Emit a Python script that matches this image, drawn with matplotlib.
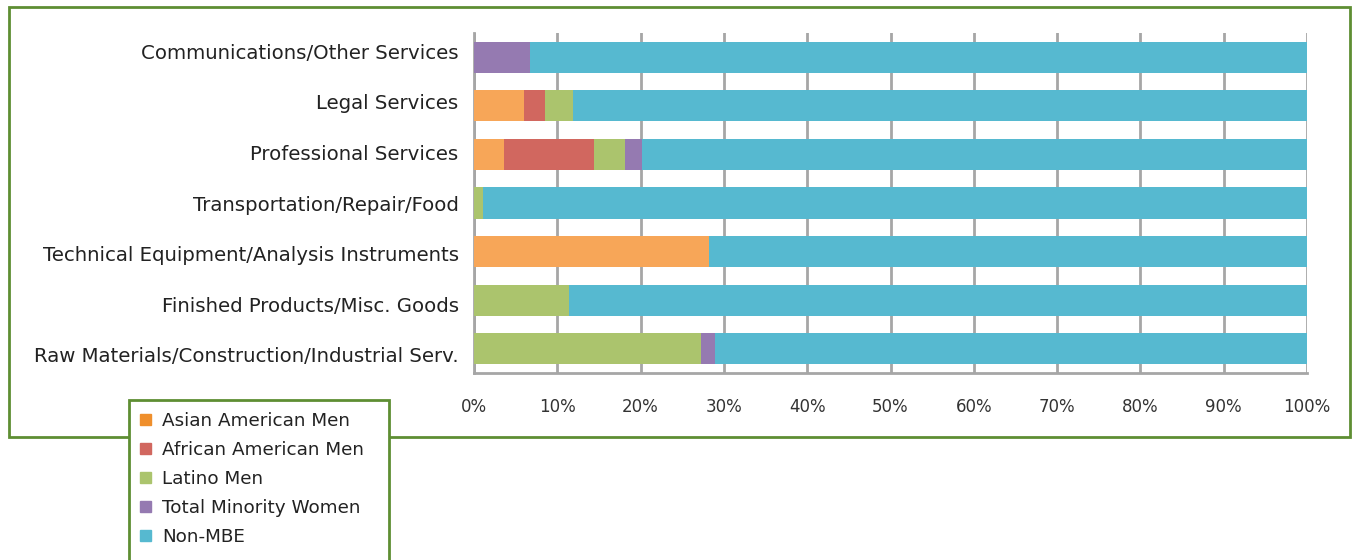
import numpy as np
import matplotlib.pyplot as plt
import matplotlib.patches as mpatches

plt.rcParams['font.family'] = ['DejaVu Sans']

categories = ['Communications/Other Services', 'Legal Services', 'Professional Services',
              'Transportation/Repair/Food', 'Technical Equipment/Analysis Instruments',
              'Finished Products/Misc. Goods', 'Raw Materials/Construction/Industrial Serv.']
asian_men = [0.0, 6.0, 3.6, 0.0, 28.2, 0.0, 0.0]
african_men = [0.0, 2.5, 10.8, 0.0, 0.0, 0.0, 0.0]
latino_men = [0.0, 3.4, 3.7, 1.1, 0.0, 11.4, 27.2]
minority_women = [6.7, 0.0, 2.1, 0.0, 0.0, 0.0, 1.7]
series_names = ['Asian American Men', 'African American Men', 'Latino Men',
                'Total Minority Women', 'Non-MBE']
xticks = [0, 10, 20, 30, 40, 50, 60, 70, 80, 90, 100]

colors = ['#F7A658', '#D1675F', '#ABC46D', '#957AB1', '#56B9D0']
legend_colors = ['#EF8F2C', '#D1675F', '#ABC46D', '#957AB1', '#56B9D0']
green = '#5E8E33'
grey = '#A6A6A6'

minority = np.array([asian_men, african_men, latino_men, minority_women])
non_mbe = 100 - minority.sum(axis=0)
data = list(minority) + [non_mbe]

fig = plt.figure(figsize=(13.53, 5.6), dpi=100)
ax = fig.add_axes([474/1353, 1-373/560, (1307-474)/1353, 340/560])

y = np.arange(len(categories))
left = np.zeros(len(categories))
for vals, c, name in zip(data, colors, series_names):
    ax.barh(y, vals, left=left, height=0.64, color=c, label=name, zorder=3)
    left += vals

ax.set_xlim(0, 100)
ax.set_ylim(len(categories) - 0.5, -0.5)
ax.set_xticks(xticks)
ax.set_xticklabels([f'{t}%' for t in xticks], fontsize=12, color='#333333')
# category labels are spread a little wider than the bars
ax.set_yticks(-0.12 + y * 1.04)
ax.set_yticklabels(categories, fontsize=14.2, color='#222222')
ax.tick_params(axis='both', length=0)
ax.tick_params(axis='x', pad=18)
ax.tick_params(axis='y', pad=11)
ax.grid(axis='x', color=grey, linewidth=2, zorder=0)
for s in ['top', 'right']:
    ax.spines[s].set_visible(False)
for s in ['left', 'bottom']:
    ax.spines[s].set_color(grey)
    ax.spines[s].set_linewidth(2)

# outer frame around the chart
W, H = 1353, 560
fig.patches.append(mpatches.Rectangle((9/W, 1-437/H), (1350-9)/W, (437-7)/H,
                                      transform=fig.transFigure, fill=False,
                                      edgecolor=green, linewidth=2, zorder=1))
# legend box, running off the bottom edge
fig.patches.append(mpatches.Rectangle((129/W, -0.02), (389-129)/W, 1-400/H+0.02,
                                      transform=fig.transFigure, facecolor='white',
                                      edgecolor=green, linewidth=2, zorder=2))

handles = [mpatches.Patch(color=c) for c in legend_colors]
leg = fig.legend(handles, series_names, loc='upper left',
                 bbox_to_anchor=(140/W, 1-412/H), frameon=False, fontsize=13.2,
                 handlelength=0.6, handleheight=0.6, handletextpad=0.6,
                 labelspacing=0.6, borderaxespad=0, borderpad=0)
leg.set_zorder(5)
for t in leg.get_texts():
    t.set_color('#222222')

fig.savefig('out.png', dpi=100)
